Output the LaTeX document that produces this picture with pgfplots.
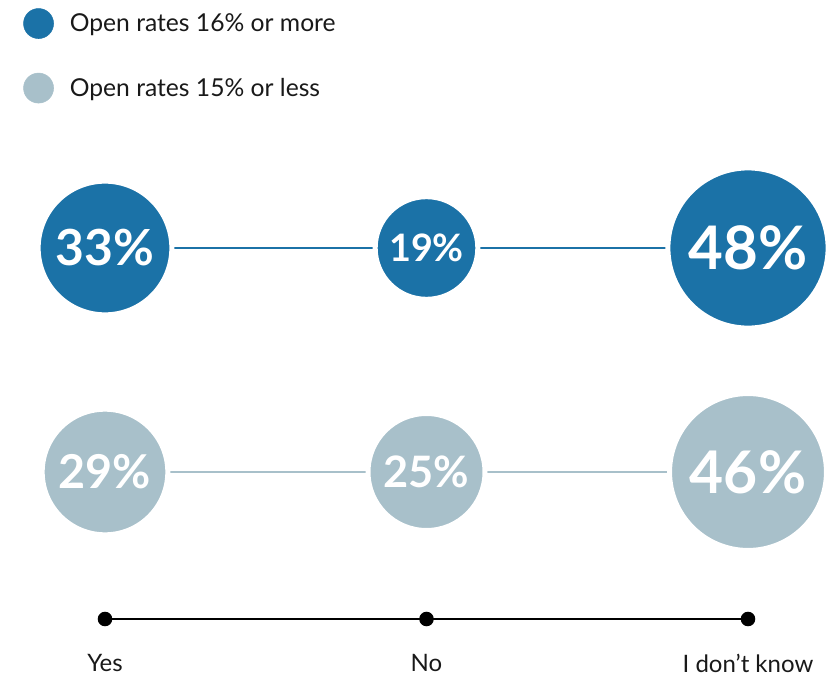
\documentclass[border=0pt]{standalone}
\usepackage{pgfplots}
\pgfplotsset{compat=1.18}
\usepackage{pgfplotstable}
\usepackage{fontspec}
\setmainfont{Lato}
\definecolor{darkblue}{RGB}{27,114,167}
\definecolor{lightblue}{RGB}{168,192,202}
\definecolor{txt}{RGB}{25,25,25}

\pgfplotstableread{
x y v
0 248 33
1 248 19
2 248 48
}\highdata
\pgfplotstableread{
x y v
0 472 29
1 472 25
2 472 46
}\lowdata
\pgfplotstableread[col sep=comma]{
x,y,label
0,619,Yes
1,619,No
2,619,I don’t know
}\cats

\begin{document}
\begin{tikzpicture}
\begin{axis}[
  x=241.125pt, y=0.75pt, y dir=reverse,
  xmin=-0.3266, xmax=2.2675, ymin=0, ymax=673,
  hide axis, clip=false,
  /pgf/number format/assume math mode=true,
  legend cell align=left,
  legend style={at={(axis cs:-0.255,8)}, anchor=north west, draw=none, fill=none,
    font=\fontsize{18.5}{21}\selectfont\color{txt}, row sep=25.5pt, column sep=12pt,
    inner sep=0pt, nodes={inner sep=0pt}},
  bubble/.style={only marks, mark=none, forget plot, point meta=explicit,
    nodes near coords={\pgfmathprintnumber{\pgfplotspointmeta}\%},
    every node near coord/.append style={
      /utils/exec={\pgfkeys{/pgf/fpu=false}%
        \pgfmathfloattofixed{\pgfplotspointmeta}\let\bubbleval\pgfmathresult
        \pgfmathsetmacro\bubblediam{2*(8.4*sqrt(\bubbleval)+1.875)}%
        \pgfmathsetmacro\bubblefont{6.5*sqrt(\bubbleval)}},
      circle, fill=#1, draw=white, line width=3.75pt,
      minimum size=\bubblediam pt, inner sep=0pt, text=white, anchor=center,
      font=\fontsize{\bubblefont pt}{\bubblefont pt}\selectfont\bfseries}},
]
\path (rel axis cs:0,0) rectangle (rel axis cs:1,1);
% legend
\addlegendimage{legend image code/.code={\fill[darkblue] (0pt,0pt) circle (11.25pt);}}
\addlegendentry{Open rates 16\% or more}
\addlegendimage{legend image code/.code={\fill[lightblue] (0pt,0pt) circle (11.25pt);}}
\addlegendentry{Open rates 15\% or less}
% connecting lines
\addplot[darkblue, line width=1pt, no marks, forget plot] table[x=x,y=y] {\highdata};
\addplot[lightblue, line width=1pt, no marks, forget plot] table[x=x,y=y] {\lowdata};
% bubbles
\addplot[bubble=darkblue] table[x=x,y=y,meta=v] {\highdata};
\addplot[bubble=lightblue] table[x=x,y=y,meta=v] {\lowdata};
% category axis
\addplot[black, line width=1.1pt, mark=*, mark size=4.9pt, forget plot,
  point meta=explicit symbolic, nodes near coords,
  every node near coord/.append style={anchor=center, yshift=-33pt, text=txt,
    font=\fontsize{18}{21}\selectfont}]
  table[col sep=comma, x=x, y=y, meta=label] {\cats};
\end{axis}
\end{tikzpicture}
\end{document}
